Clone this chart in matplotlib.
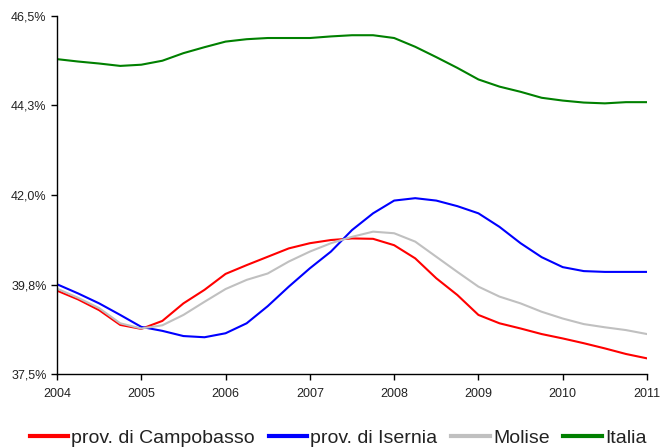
import matplotlib
matplotlib.use("Agg")
import matplotlib.pyplot as plt
import numpy as np

plt.rcParams['font.family'] = ['Liberation Sans', 'DejaVu Sans']

# quarterly time points 2004.00 .. 2011.00
years = [2004 + 0.25 * i for i in range(29)]

campobasso = [39.60, 39.38, 39.11, 38.74, 38.64, 38.84, 39.28, 39.62, 40.02, 40.24,
              40.45, 40.66, 40.79, 40.87, 40.91, 40.90, 40.74, 40.41, 39.91, 39.49,
              38.99, 38.78, 38.65, 38.51, 38.40, 38.28, 38.15, 38.01, 37.90]
isernia = [39.76, 39.53, 39.28, 38.99, 38.69, 38.59, 38.46, 38.43, 38.53, 38.78,
           39.21, 39.70, 40.16, 40.58, 41.12, 41.54, 41.86, 41.92, 41.86, 41.72,
           41.54, 41.20, 40.79, 40.44, 40.19, 40.09, 40.07, 40.07, 40.07]
molise = [39.65, 39.42, 39.16, 38.78, 38.65, 38.73, 38.99, 39.32, 39.64, 39.87,
          40.03, 40.33, 40.58, 40.79, 40.95, 41.08, 41.04, 40.83, 40.45, 40.07,
          39.70, 39.45, 39.28, 39.07, 38.90, 38.76, 38.68, 38.61, 38.51]
italia = [45.41, 45.35, 45.30, 45.24, 45.27, 45.37, 45.56, 45.71, 45.85, 45.91,
          45.94, 45.94, 45.94, 45.98, 46.01, 46.01, 45.94, 45.72, 45.46, 45.19,
          44.90, 44.72, 44.59, 44.44, 44.37, 44.32, 44.30, 44.33, 44.33]

series_names = ["prov. di Campobasso", "prov. di Isernia", "Molise", "Italia"]
colors = ["#FF0000", "#0000FF", "#C0C0C0", "#008000"]

x_ticks = [2004, 2005, 2006, 2007, 2008, 2009, 2010, 2011]
y_ticks = [37.5, 39.75, 42.0, 44.25, 46.5]
y_tick_labels = ["37,5%", "39,8%", "42,0%", "44,3%", "46,5%"]

fig = plt.figure(figsize=(6.61, 4.48), dpi=100)
ax = fig.add_axes([57/661, 1 - 374.3/448, (647 - 57)/661, (374.3 - 15.7)/448])

data = [campobasso, isernia, molise, italia]
lines = []
for name, vals, c in zip(series_names, data, colors):
    ln, = ax.plot(years, vals, color=c, lw=1.5, label=name)
    lines.append(ln)

ax.set_xlim(2004, 2011)
ax.set_ylim(37.5, 46.5)
ax.set_xticks(x_ticks)
ax.set_xticklabels([str(v) for v in x_ticks])
ax.set_yticks(y_ticks)
ax.set_yticklabels(y_tick_labels)
for s in ['top', 'right']:
    ax.spines[s].set_visible(False)
for s in ['left', 'bottom']:
    ax.spines[s].set_color('black')
    ax.spines[s].set_linewidth(1.0)
ax.tick_params(axis='both', direction='out', length=4, width=1, colors='black',
               labelsize=9, labelcolor='#222222')
ax.tick_params(axis='x', pad=6)

leg = fig.legend(lines, series_names, loc='center', ncol=4,
                 bbox_to_anchor=(338/661, 1 - 438/448), frameon=False,
                 fontsize=14, handlelength=2.0, handletextpad=0.15,
                 columnspacing=0.7, borderaxespad=0)
for h in leg.legend_handles:
    h.set_linewidth(3)
for t in leg.get_texts():
    t.set_color('#222222')

fig.savefig("out.png", dpi=100)
